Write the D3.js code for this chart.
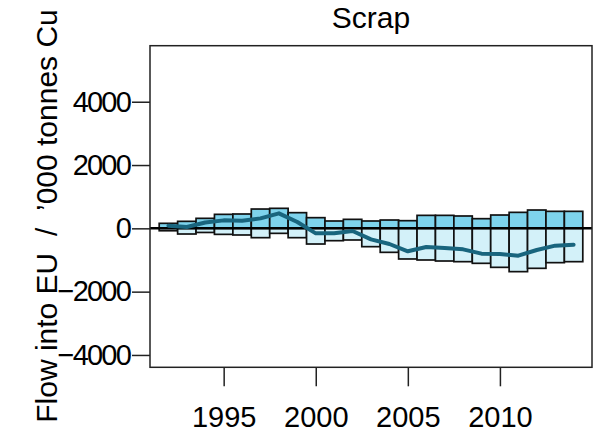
<!DOCTYPE html>
<html>
<head>
<meta charset="utf-8">
<script src="https://cdn.jsdelivr.net/npm/d3@7"></script>
<style>
  html, body { margin: 0; padding: 0; background: #fff; }
  svg { display: block; font-family: "Liberation Sans", Arial, Helvetica, sans-serif; }
</style>
</head>
<body>
<svg id="chart" width="600" height="433"></svg>
<script>
const years = [1992,1993,1994,1995,1996,1997,1998,1999,2000,2001,2002,2003,2004,2005,2006,2007,2008,2009,2010,2011,2012,2013,2014];
const imports = [158,221,316,442,453,610,632,495,337,232,284,232,263,242,410,410,390,305,421,505,579,537,537];
const exports = [-76,-179,-130,-190,-210,-295,-158,-295,-495,-390,-368,-579,-758,-968,-1000,-1032,-1053,-1105,-1232,-1368,-1263,-1084,-1053];
const net = [82,42,186,252,243,315,474,200,-158,-158,-84,-347,-495,-726,-590,-622,-663,-800,-811,-863,-684,-547,-516];
const yTicks = [-4000,-2000,0,2000,4000];
const xTicks = [1995,2000,2005,2010];
const title = "Scrap";
const yLabel = "Flow into EU  /  \u2019000 tonnes Cu";

const svg = d3.select("#chart");
const L = 150, R = 592, T = 45.7, B = 367.3;
const x = d3.scaleLinear().domain([1991, 2015]).range([L, R]);
const y = d3.scaleLinear().domain([-4390, 5770]).range([B, T]);
const bw = x(1) - x(0);

const data = years.map((yr, i) => ({yr, imp: imports[i], exp: exports[i], net: net[i]}));

svg.append("g").selectAll("rect").data(data).join("rect")
  .attr("x", d => x(d.yr) - bw/2)
  .attr("width", bw)
  .attr("y", d => y(d.imp))
  .attr("height", d => y(0) - y(d.imp))
  .attr("fill", "#7ed3ec")
  .attr("stroke", "#111")
  .attr("stroke-width", 1.7);

svg.append("g").selectAll("rect").data(data).join("rect")
  .attr("x", d => x(d.yr) - bw/2)
  .attr("width", bw)
  .attr("y", y(0))
  .attr("height", d => y(d.exp) - y(0))
  .attr("fill", "#d3f1f9")
  .attr("stroke", "#111")
  .attr("stroke-width", 1.7);

svg.append("line")
  .attr("x1", L).attr("x2", R)
  .attr("y1", y(0)).attr("y2", y(0))
  .attr("stroke", "#000").attr("stroke-width", 2.5);

svg.append("path")
  .datum(data)
  .attr("fill", "none")
  .attr("stroke", "#19657e")
  .attr("stroke-width", 4)
  .attr("stroke-linejoin", "round")
  .attr("stroke-linecap", "round")
  .attr("d", d3.line().x(d => x(d.yr)).y(d => y(d.net)));

svg.append("rect")
  .attr("x", L).attr("y", T)
  .attr("width", R - L).attr("height", B - T)
  .attr("fill", "none").attr("stroke", "#222").attr("stroke-width", 1.5);

const yAxis = d3.axisLeft(y).tickValues(yTicks).tickSize(18).tickPadding(2)
  .tickFormat(d => d < 0 ? "\u2212" + Math.abs(d) : String(d));
const gy = svg.append("g").attr("transform", `translate(${L},0)`).call(yAxis);
gy.select(".domain").remove();
gy.selectAll(".tick line").attr("stroke", "#222").attr("stroke-width", 1.5);
gy.selectAll(".tick text").attr("font-size", 29).attr("fill", "#000")
  .attr("letter-spacing", "-1.8px")
  .attr("font-family", "Liberation Sans, Arial, sans-serif");

const xAxis = d3.axisBottom(x).tickValues(xTicks).tickSize(19).tickPadding(20)
  .tickFormat(d3.format("d"));
const gx = svg.append("g").attr("transform", `translate(0,${B})`).call(xAxis);
gx.select(".domain").remove();
gx.selectAll(".tick line").attr("stroke", "#222").attr("stroke-width", 1.5);
gx.selectAll(".tick text").attr("font-size", 29).attr("fill", "#000")
  .attr("font-family", "Liberation Sans, Arial, sans-serif");

svg.append("text")
  .attr("x", (L + R) / 2).attr("y", 28)
  .attr("text-anchor", "middle")
  .attr("font-size", 30)
  .attr("fill", "#000")
  .text(title);

svg.append("text")
  .attr("transform", `translate(57,216) rotate(-90)`)
  .attr("text-anchor", "middle")
  .attr("font-size", 30)
  .attr("fill", "#000")
  .style("white-space", "pre")
  .text(yLabel);
</script>
</body>
</html>
